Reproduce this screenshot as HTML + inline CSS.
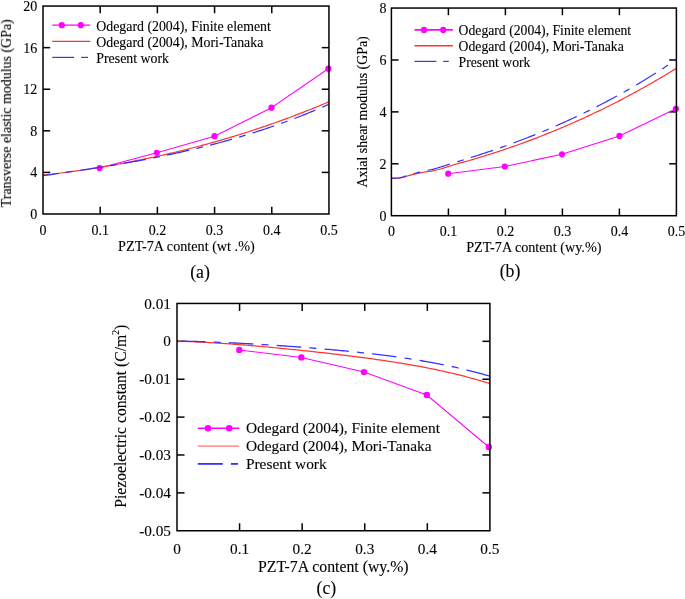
<!DOCTYPE html>
<html><head><meta charset="utf-8"><style>
html,body{margin:0;padding:0;background:#fff;}
svg{display:block;}
</style></head><body>
<svg width="685" height="599" viewBox="0 0 685 599">
<rect width="685" height="599" fill="#fff"/>
<g opacity="0.999"><g stroke="#000" stroke-width="1.5" fill="none" stroke-linecap="butt"><line x1="100.19" y1="214.00" x2="100.19" y2="206.80"/>
<line x1="100.19" y1="6.05" x2="100.19" y2="13.25"/>
<line x1="157.38" y1="214.00" x2="157.38" y2="206.80"/>
<line x1="157.38" y1="6.05" x2="157.38" y2="13.25"/>
<line x1="214.57" y1="214.00" x2="214.57" y2="206.80"/>
<line x1="214.57" y1="6.05" x2="214.57" y2="13.25"/>
<line x1="271.76" y1="214.00" x2="271.76" y2="206.80"/>
<line x1="271.76" y1="6.05" x2="271.76" y2="13.25"/>
<line x1="43.00" y1="172.41" x2="50.20" y2="172.41"/>
<line x1="328.95" y1="172.41" x2="321.75" y2="172.41"/>
<line x1="43.00" y1="130.82" x2="50.20" y2="130.82"/>
<line x1="328.95" y1="130.82" x2="321.75" y2="130.82"/>
<line x1="43.00" y1="89.23" x2="50.20" y2="89.23"/>
<line x1="328.95" y1="89.23" x2="321.75" y2="89.23"/>
<line x1="43.00" y1="47.64" x2="50.20" y2="47.64"/>
<line x1="328.95" y1="47.64" x2="321.75" y2="47.64"/>
<line x1="448.40" y1="215.70" x2="448.40" y2="208.50"/>
<line x1="448.40" y1="8.05" x2="448.40" y2="15.25"/>
<line x1="505.40" y1="215.70" x2="505.40" y2="208.50"/>
<line x1="505.40" y1="8.05" x2="505.40" y2="15.25"/>
<line x1="562.40" y1="215.70" x2="562.40" y2="208.50"/>
<line x1="562.40" y1="8.05" x2="562.40" y2="15.25"/>
<line x1="619.40" y1="215.70" x2="619.40" y2="208.50"/>
<line x1="619.40" y1="8.05" x2="619.40" y2="15.25"/>
<line x1="391.40" y1="163.79" x2="398.60" y2="163.79"/>
<line x1="676.40" y1="163.79" x2="669.20" y2="163.79"/>
<line x1="391.40" y1="111.88" x2="398.60" y2="111.88"/>
<line x1="676.40" y1="111.88" x2="669.20" y2="111.88"/>
<line x1="391.40" y1="59.96" x2="398.60" y2="59.96"/>
<line x1="676.40" y1="59.96" x2="669.20" y2="59.96"/>
<line x1="239.58" y1="530.75" x2="239.58" y2="523.25"/>
<line x1="239.58" y1="303.45" x2="239.58" y2="310.95"/>
<line x1="302.16" y1="530.75" x2="302.16" y2="523.25"/>
<line x1="302.16" y1="303.45" x2="302.16" y2="310.95"/>
<line x1="364.74" y1="530.75" x2="364.74" y2="523.25"/>
<line x1="364.74" y1="303.45" x2="364.74" y2="310.95"/>
<line x1="427.32" y1="530.75" x2="427.32" y2="523.25"/>
<line x1="427.32" y1="303.45" x2="427.32" y2="310.95"/>
<line x1="177.00" y1="341.33" x2="184.50" y2="341.33"/>
<line x1="489.90" y1="341.33" x2="482.40" y2="341.33"/>
<line x1="177.00" y1="379.22" x2="184.50" y2="379.22"/>
<line x1="489.90" y1="379.22" x2="482.40" y2="379.22"/>
<line x1="177.00" y1="417.10" x2="184.50" y2="417.10"/>
<line x1="489.90" y1="417.10" x2="482.40" y2="417.10"/>
<line x1="177.00" y1="454.98" x2="184.50" y2="454.98"/>
<line x1="489.90" y1="454.98" x2="482.40" y2="454.98"/>
<line x1="177.00" y1="492.87" x2="184.50" y2="492.87"/>
<line x1="489.90" y1="492.87" x2="482.40" y2="492.87"/></g>
<g font-family="Liberation Serif, serif" fill="#000"><path d="M99.60,168.10 L156.80,152.80 L214.50,136.20 L271.50,107.70 L328.30,68.70" fill="none" stroke="#ff00ff" stroke-width="1.05"/>
<circle cx="99.60" cy="168.10" r="3.1" fill="#ff00ff"/>
<circle cx="156.80" cy="152.80" r="3.1" fill="#ff00ff"/>
<circle cx="214.50" cy="136.20" r="3.1" fill="#ff00ff"/>
<circle cx="271.50" cy="107.70" r="3.1" fill="#ff00ff"/>
<circle cx="328.30" cy="68.70" r="3.1" fill="#ff00ff"/>
<path d="M43.00,175.17 L45.00,174.94 L47.00,174.70 L49.00,174.47 L51.00,174.23 L53.00,173.99 L55.00,173.74 L57.00,173.49 L59.00,173.24 L61.00,172.98 L63.00,172.72 L65.00,172.46 L67.00,172.19 L69.00,171.92 L71.00,171.65 L73.00,171.37 L75.00,171.09 L77.00,170.81 L79.00,170.52 L81.00,170.23 L83.00,169.93 L85.00,169.64 L87.00,169.33 L89.00,169.03 L91.00,168.72 L93.00,168.41 L95.00,168.09 L97.00,167.77 L99.00,167.44 L101.00,167.12 L103.00,166.79 L105.00,166.45 L107.00,166.11 L109.00,165.77 L111.00,165.42 L113.00,165.07 L115.00,164.72 L117.00,164.36 L119.00,164.00 L121.00,163.63 L123.00,163.26 L125.00,162.89 L127.00,162.51 L129.00,162.13 L131.00,161.75 L133.00,161.36 L135.00,160.96 L137.00,160.57 L139.00,160.17 L141.00,159.76 L143.00,159.35 L145.00,158.94 L147.00,158.52 L149.00,158.10 L151.00,157.67 L153.00,157.25 L155.00,156.81 L157.00,156.37 L159.00,155.93 L161.00,155.49 L163.00,155.04 L165.00,154.58 L167.00,154.12 L169.00,153.66 L171.00,153.20 L173.00,152.72 L175.00,152.25 L177.00,151.77 L179.00,151.29 L181.00,150.80 L183.00,150.31 L185.00,149.81 L187.00,149.31 L189.00,148.80 L191.00,148.29 L193.00,147.78 L195.00,147.26 L197.00,146.74 L199.00,146.21 L201.00,145.68 L203.00,145.14 L205.00,144.60 L207.00,144.06 L209.00,143.51 L211.00,142.95 L213.00,142.40 L215.00,141.83 L217.00,141.26 L219.00,140.69 L221.00,140.12 L223.00,139.53 L225.00,138.95 L227.00,138.36 L229.00,137.76 L231.00,137.16 L233.00,136.56 L235.00,135.95 L237.00,135.34 L239.00,134.72 L241.00,134.09 L243.00,133.47 L245.00,132.83 L247.00,132.20 L249.00,131.55 L251.00,130.91 L253.00,130.26 L255.00,129.60 L257.00,128.94 L259.00,128.27 L261.00,127.60 L263.00,126.92 L265.00,126.24 L267.00,125.56 L269.00,124.87 L271.00,124.17 L273.00,123.47 L275.00,122.76 L277.00,122.05 L279.00,121.34 L281.00,120.62 L283.00,119.89 L285.00,119.16 L287.00,118.43 L289.00,117.69 L291.00,116.94 L293.00,116.19 L295.00,115.43 L297.00,114.67 L299.00,113.91 L301.00,113.14 L303.00,112.36 L305.00,111.58 L307.00,110.79 L309.00,110.00 L311.00,109.20 L313.00,108.40 L315.00,107.59 L317.00,106.78 L319.00,105.96 L321.00,105.14 L323.00,104.31 L325.00,103.47 L327.00,102.64 L328.95,101.81" fill="none" stroke="#ff3333" stroke-width="1.2" stroke-linejoin="round"/>
<path d="M43.00,175.64 L45.00,175.37 L47.00,175.09 L49.00,174.82 L51.00,174.54 L53.00,174.26 L55.00,173.99 L57.00,173.71 L59.00,173.43 L61.00,173.14 L63.00,172.86 L65.00,172.58 L67.00,172.29 L69.00,172.00 L71.00,171.71 L73.00,171.42 L75.00,171.13 L77.00,170.84 L79.00,170.54 L81.00,170.25 L83.00,169.95 L85.00,169.65 L87.00,169.34 L89.00,169.04 L91.00,168.73 L93.00,168.42 L95.00,168.11 L97.00,167.80 L99.00,167.48 L101.00,167.17 L103.00,166.85 L105.00,166.52 L107.00,166.20 L109.00,165.87 L111.00,165.54 L113.00,165.21 L115.00,164.88 L117.00,164.54 L119.00,164.20 L121.00,163.86 L123.00,163.51 L125.00,163.17 L127.00,162.81 L129.00,162.46 L131.00,162.10 L133.00,161.74 L135.00,161.38 L137.00,161.02 L139.00,160.65 L141.00,160.28 L143.00,159.90 L145.00,159.52 L147.00,159.14 L149.00,158.75 L151.00,158.37 L153.00,157.97 L155.00,157.58 L157.00,157.18 L159.00,156.78 L161.00,156.37 L163.00,155.96 L165.00,155.54 L167.00,155.13 L169.00,154.71 L171.00,154.28 L173.00,153.85 L175.00,153.42 L177.00,152.98 L179.00,152.54 L181.00,152.09 L183.00,151.64 L185.00,151.19 L187.00,150.73 L189.00,150.27 L191.00,149.80 L193.00,149.33 L195.00,148.85 L197.00,148.37 L199.00,147.89 L201.00,147.40 L203.00,146.90 L205.00,146.40 L207.00,145.90 L209.00,145.39 L211.00,144.88 L213.00,144.36 L215.00,143.83 L217.00,143.30 L219.00,142.77 L221.00,142.23 L223.00,141.69 L225.00,141.14 L227.00,140.59 L229.00,140.03 L231.00,139.46 L233.00,138.89 L235.00,138.32 L237.00,137.73 L239.00,137.15 L241.00,136.56 L243.00,135.96 L245.00,135.35 L247.00,134.74 L249.00,134.13 L251.00,133.51 L253.00,132.88 L255.00,132.25 L257.00,131.61 L259.00,130.97 L261.00,130.32 L263.00,129.66 L265.00,129.00 L267.00,128.33 L269.00,127.65 L271.00,126.97 L273.00,126.28 L275.00,125.59 L277.00,124.89 L279.00,124.18 L281.00,123.47 L283.00,122.75 L285.00,122.02 L287.00,121.29 L289.00,120.54 L291.00,119.80 L293.00,119.04 L295.00,118.28 L297.00,117.52 L299.00,116.74 L301.00,115.96 L303.00,115.17 L305.00,114.37 L307.00,113.57 L309.00,112.76 L311.00,111.94 L313.00,111.12 L315.00,110.29 L317.00,109.45 L319.00,108.60 L321.00,107.75 L323.00,106.88 L325.00,106.02 L327.00,105.14 L328.95,104.28" fill="none" stroke="#3333ff" stroke-width="1.25" stroke-dasharray="22.7 7.4 6.7 7.4" stroke-dashoffset="6.8" stroke-linejoin="round"/>
<path d="M448.20,173.70 L504.80,166.50 L562.00,154.30 L619.40,135.90 L675.90,108.80" fill="none" stroke="#ff00ff" stroke-width="1.1"/>
<circle cx="448.20" cy="173.70" r="3.1" fill="#ff00ff"/>
<circle cx="504.80" cy="166.50" r="3.1" fill="#ff00ff"/>
<circle cx="562.00" cy="154.30" r="3.1" fill="#ff00ff"/>
<circle cx="619.40" cy="135.90" r="3.1" fill="#ff00ff"/>
<circle cx="675.90" cy="108.80" r="3.1" fill="#ff00ff"/>
<path d="M391.40,178.39 L393.40,178.37 L395.40,178.34 L397.40,178.27 L399.40,178.08 L401.40,177.72 L403.40,177.19 L405.40,176.58 L407.40,175.97 L409.40,175.38 L411.40,174.84 L413.40,174.37 L415.40,173.93 L417.40,173.50 L419.40,173.07 L421.40,172.65 L423.40,172.25 L425.40,171.90 L427.40,171.62 L429.40,171.37 L431.40,171.07 L433.40,170.68 L435.40,170.23 L437.40,169.75 L439.40,169.26 L441.40,168.72 L443.40,168.12 L445.40,167.49 L447.40,166.84 L449.40,166.20 L451.40,165.57 L453.40,164.96 L455.40,164.36 L457.40,163.77 L459.40,163.20 L461.40,162.64 L463.40,162.09 L465.40,161.55 L467.40,161.01 L469.40,160.46 L471.40,159.89 L473.40,159.30 L475.40,158.71 L477.40,158.11 L479.40,157.51 L481.40,156.90 L483.40,156.28 L485.40,155.66 L487.40,155.04 L489.40,154.41 L491.40,153.77 L493.40,153.13 L495.40,152.48 L497.40,151.83 L499.40,151.17 L501.40,150.51 L503.40,149.84 L505.40,149.16 L507.40,148.48 L509.40,147.79 L511.40,147.10 L513.40,146.40 L515.40,145.70 L517.40,144.99 L519.40,144.27 L521.40,143.55 L523.40,142.82 L525.40,142.09 L527.40,141.35 L529.40,140.61 L531.40,139.86 L533.40,139.10 L535.40,138.34 L537.40,137.57 L539.40,136.79 L541.40,136.01 L543.40,135.22 L545.40,134.43 L547.40,133.63 L549.40,132.83 L551.40,132.02 L553.40,131.20 L555.40,130.37 L557.40,129.54 L559.40,128.71 L561.40,127.87 L563.40,127.02 L565.40,126.16 L567.40,125.30 L569.40,124.43 L571.40,123.56 L573.40,122.68 L575.40,121.79 L577.40,120.90 L579.40,120.00 L581.40,119.10 L583.40,118.18 L585.40,117.27 L587.40,116.34 L589.40,115.41 L591.40,114.47 L593.40,113.53 L595.40,112.57 L597.40,111.62 L599.40,110.65 L601.40,109.68 L603.40,108.70 L605.40,107.72 L607.40,106.73 L609.40,105.73 L611.40,104.72 L613.40,103.71 L615.40,102.70 L617.40,101.67 L619.40,100.64 L621.40,99.60 L623.40,98.55 L625.40,97.50 L627.40,96.44 L629.40,95.38 L631.40,94.30 L633.40,93.22 L635.40,92.14 L637.40,91.04 L639.40,89.94 L641.40,88.83 L643.40,87.72 L645.40,86.60 L647.40,85.47 L649.40,84.33 L651.40,83.19 L653.40,82.04 L655.40,80.88 L657.40,79.71 L659.40,78.54 L661.40,77.36 L663.40,76.17 L665.40,74.98 L667.40,73.78 L669.40,72.57 L671.40,71.35 L673.40,70.13 L675.40,68.90 L676.40,68.28" fill="none" stroke="#ff3333" stroke-width="1.2" stroke-linejoin="round"/>
<path d="M391.40,178.18 L393.40,178.15 L395.40,178.10 L397.40,178.00 L399.40,177.79 L401.40,177.39 L403.40,176.82 L405.40,176.18 L407.40,175.52 L409.40,174.88 L411.40,174.29 L413.40,173.74 L415.40,173.21 L417.40,172.70 L419.40,172.19 L421.40,171.68 L423.40,171.21 L425.40,170.78 L427.40,170.40 L429.40,170.02 L431.40,169.62 L433.40,169.15 L435.40,168.61 L437.40,168.03 L439.40,167.42 L441.40,166.79 L443.40,166.15 L445.40,165.52 L447.40,164.89 L449.40,164.27 L451.40,163.64 L453.40,163.02 L455.40,162.39 L457.40,161.77 L459.40,161.15 L461.40,160.52 L463.40,159.89 L465.40,159.26 L467.40,158.63 L469.40,158.01 L471.40,157.38 L473.40,156.75 L475.40,156.11 L477.40,155.47 L479.40,154.82 L481.40,154.17 L483.40,153.51 L485.40,152.85 L487.40,152.19 L489.40,151.51 L491.40,150.84 L493.40,150.16 L495.40,149.47 L497.40,148.78 L499.40,148.08 L501.40,147.37 L503.40,146.66 L505.40,145.95 L507.40,145.23 L509.40,144.50 L511.40,143.77 L513.40,143.04 L515.40,142.29 L517.40,141.55 L519.40,140.79 L521.40,140.03 L523.40,139.26 L525.40,138.49 L527.40,137.71 L529.40,136.93 L531.40,136.14 L533.40,135.34 L535.40,134.54 L537.40,133.73 L539.40,132.92 L541.40,132.10 L543.40,131.27 L545.40,130.43 L547.40,129.59 L549.40,128.75 L551.40,127.89 L553.40,127.03 L555.40,126.16 L557.40,125.29 L559.40,124.41 L561.40,123.52 L563.40,122.63 L565.40,121.73 L567.40,120.82 L569.40,119.90 L571.40,118.98 L573.40,118.05 L575.40,117.12 L577.40,116.17 L579.40,115.22 L581.40,114.27 L583.40,113.30 L585.40,112.33 L587.40,111.35 L589.40,110.36 L591.40,109.37 L593.40,108.36 L595.40,107.35 L597.40,106.34 L599.40,105.31 L601.40,104.28 L603.40,103.24 L605.40,102.19 L607.40,101.13 L609.40,100.07 L611.40,99.00 L613.40,97.91 L615.40,96.83 L617.40,95.73 L619.40,94.63 L621.40,93.51 L623.40,92.39 L625.40,91.26 L627.40,90.13 L629.40,88.98 L631.40,87.83 L633.40,86.66 L635.40,85.49 L637.40,84.31 L639.40,83.12 L641.40,81.93 L643.40,80.72 L645.40,79.51 L647.40,78.28 L649.40,77.05 L651.40,75.81 L653.40,74.56 L655.40,73.30 L657.40,72.03 L659.40,70.76 L661.40,69.47 L663.40,68.17 L665.40,66.87 L667.40,65.56 L669.40,64.23 L671.40,62.90 L673.40,61.56 L675.40,60.21 L676.40,59.53" fill="none" stroke="#3333ff" stroke-width="1.2" stroke-dasharray="23.2 7.6 6.8 7.6" stroke-dashoffset="8.0" stroke-linejoin="round"/>
<path d="M239.30,349.90 L301.30,357.40 L364.00,372.10 L426.80,395.00 L488.80,447.00" fill="none" stroke="#ff00ff" stroke-width="1.05"/>
<circle cx="239.30" cy="349.90" r="3.2" fill="#ff00ff"/>
<circle cx="301.30" cy="357.40" r="3.2" fill="#ff00ff"/>
<circle cx="364.00" cy="372.10" r="3.2" fill="#ff00ff"/>
<circle cx="426.80" cy="395.00" r="3.2" fill="#ff00ff"/>
<circle cx="488.80" cy="447.00" r="3.2" fill="#ff00ff"/>
<path d="M177.00,341.19 L179.00,341.24 L181.00,341.30 L183.00,341.36 L185.00,341.43 L187.00,341.50 L189.00,341.57 L191.00,341.65 L193.00,341.74 L195.00,341.82 L197.00,341.92 L199.00,342.01 L201.00,342.11 L203.00,342.22 L205.00,342.32 L207.00,342.43 L209.00,342.55 L211.00,342.66 L213.00,342.78 L215.00,342.91 L217.00,343.03 L219.00,343.16 L221.00,343.30 L223.00,343.43 L225.00,343.57 L227.00,343.71 L229.00,343.85 L231.00,344.00 L233.00,344.15 L235.00,344.30 L237.00,344.45 L239.00,344.61 L241.00,344.77 L243.00,344.93 L245.00,345.09 L247.00,345.25 L249.00,345.42 L251.00,345.59 L253.00,345.76 L255.00,345.93 L257.00,346.10 L259.00,346.28 L261.00,346.46 L263.00,346.64 L265.00,346.82 L267.00,347.00 L269.00,347.18 L271.00,347.37 L273.00,347.56 L275.00,347.75 L277.00,347.94 L279.00,348.13 L281.00,348.32 L283.00,348.52 L285.00,348.72 L287.00,348.91 L289.00,349.11 L291.00,349.32 L293.00,349.52 L295.00,349.72 L297.00,349.93 L299.00,350.14 L301.00,350.34 L303.00,350.55 L305.00,350.77 L307.00,350.98 L309.00,351.19 L311.00,351.41 L313.00,351.63 L315.00,351.84 L317.00,352.07 L319.00,352.29 L321.00,352.51 L323.00,352.74 L325.00,352.96 L327.00,353.19 L329.00,353.42 L331.00,353.65 L333.00,353.89 L335.00,354.12 L337.00,354.36 L339.00,354.60 L341.00,354.84 L343.00,355.08 L345.00,355.32 L347.00,355.57 L349.00,355.82 L351.00,356.07 L353.00,356.32 L355.00,356.58 L357.00,356.84 L359.00,357.10 L361.00,357.36 L363.00,357.62 L365.00,357.89 L367.00,358.16 L369.00,358.43 L371.00,358.71 L373.00,358.99 L375.00,359.27 L377.00,359.55 L379.00,359.84 L381.00,360.13 L383.00,360.42 L385.00,360.72 L387.00,361.02 L389.00,361.32 L391.00,361.63 L393.00,361.94 L395.00,362.25 L397.00,362.57 L399.00,362.89 L401.00,363.22 L403.00,363.55 L405.00,363.88 L407.00,364.22 L409.00,364.56 L411.00,364.91 L413.00,365.26 L415.00,365.62 L417.00,365.98 L419.00,366.35 L421.00,366.72 L423.00,367.09 L425.00,367.48 L427.00,367.86 L429.00,368.26 L431.00,368.66 L433.00,369.06 L435.00,369.47 L437.00,369.89 L439.00,370.31 L441.00,370.74 L443.00,371.18 L445.00,371.62 L447.00,372.07 L449.00,372.53 L451.00,372.99 L453.00,373.46 L455.00,373.94 L457.00,374.43 L459.00,374.92 L461.00,375.42 L463.00,375.93 L465.00,376.45 L467.00,376.98 L469.00,377.51 L471.00,378.06 L473.00,378.61 L475.00,379.17 L477.00,379.74 L479.00,380.32 L481.00,380.91 L483.00,381.51 L485.00,382.12 L487.00,382.74 L489.00,383.37 L489.90,383.66" fill="none" stroke="#ff3333" stroke-width="1.25" stroke-linejoin="round"/>
<path d="M177.00,341.08 L179.00,341.11 L181.00,341.14 L183.00,341.18 L185.00,341.22 L187.00,341.26 L189.00,341.30 L191.00,341.35 L193.00,341.40 L195.00,341.45 L197.00,341.51 L199.00,341.57 L201.00,341.63 L203.00,341.69 L205.00,341.76 L207.00,341.83 L209.00,341.90 L211.00,341.97 L213.00,342.05 L215.00,342.13 L217.00,342.21 L219.00,342.29 L221.00,342.37 L223.00,342.46 L225.00,342.55 L227.00,342.64 L229.00,342.73 L231.00,342.83 L233.00,342.92 L235.00,343.02 L237.00,343.12 L239.00,343.22 L241.00,343.32 L243.00,343.43 L245.00,343.54 L247.00,343.65 L249.00,343.76 L251.00,343.87 L253.00,343.98 L255.00,344.10 L257.00,344.21 L259.00,344.33 L261.00,344.45 L263.00,344.57 L265.00,344.70 L267.00,344.82 L269.00,344.95 L271.00,345.07 L273.00,345.20 L275.00,345.33 L277.00,345.47 L279.00,345.60 L281.00,345.73 L283.00,345.87 L285.00,346.01 L287.00,346.15 L289.00,346.29 L291.00,346.43 L293.00,346.58 L295.00,346.72 L297.00,346.87 L299.00,347.02 L301.00,347.17 L303.00,347.32 L305.00,347.48 L307.00,347.63 L309.00,347.79 L311.00,347.95 L313.00,348.11 L315.00,348.27 L317.00,348.44 L319.00,348.60 L321.00,348.77 L323.00,348.94 L325.00,349.11 L327.00,349.29 L329.00,349.46 L331.00,349.64 L333.00,349.82 L335.00,350.00 L337.00,350.19 L339.00,350.37 L341.00,350.56 L343.00,350.75 L345.00,350.95 L347.00,351.14 L349.00,351.34 L351.00,351.54 L353.00,351.74 L355.00,351.95 L357.00,352.16 L359.00,352.37 L361.00,352.58 L363.00,352.80 L365.00,353.02 L367.00,353.24 L369.00,353.47 L371.00,353.70 L373.00,353.93 L375.00,354.16 L377.00,354.40 L379.00,354.64 L381.00,354.89 L383.00,355.14 L385.00,355.39 L387.00,355.65 L389.00,355.91 L391.00,356.17 L393.00,356.44 L395.00,356.71 L397.00,356.99 L399.00,357.27 L401.00,357.55 L403.00,357.84 L405.00,358.13 L407.00,358.43 L409.00,358.73 L411.00,359.04 L413.00,359.35 L415.00,359.67 L417.00,359.99 L419.00,360.32 L421.00,360.65 L423.00,360.99 L425.00,361.34 L427.00,361.68 L429.00,362.04 L431.00,362.40 L433.00,362.77 L435.00,363.14 L437.00,363.52 L439.00,363.90 L441.00,364.30 L443.00,364.69 L445.00,365.10 L447.00,365.51 L449.00,365.93 L451.00,366.35 L453.00,366.79 L455.00,367.23 L457.00,367.67 L459.00,368.13 L461.00,368.59 L463.00,369.06 L465.00,369.54 L467.00,370.03 L469.00,370.52 L471.00,371.03 L473.00,371.54 L475.00,372.06 L477.00,372.59 L479.00,373.12 L481.00,373.67 L483.00,374.23 L485.00,374.79 L487.00,375.37 L489.00,375.95 L489.90,376.22" fill="none" stroke="#3333ff" stroke-width="1.3" stroke-dasharray="24.5 8.2 7 8.2" stroke-dashoffset="-4" stroke-linejoin="round"/>
<line x1="52.3" y1="25.2" x2="90.3" y2="25.2" stroke="#ff00ff" stroke-width="1.3"/>
<circle cx="61.8" cy="25.2" r="3.1" fill="#ff00ff"/>
<circle cx="80.8" cy="25.2" r="3.1" fill="#ff00ff"/>
<line x1="52.3" y1="41.3" x2="90.3" y2="41.3" stroke="#ff3333" stroke-width="1.2"/>
<line x1="52.3" y1="57.4" x2="74.1" y2="57.4" stroke="#3333ff" stroke-width="1.2"/>
<line x1="81.2" y1="57.4" x2="88.0" y2="57.4" stroke="#3333ff" stroke-width="1.2"/>
<line x1="414.5" y1="29.9" x2="452.9" y2="29.9" stroke="#ff00ff" stroke-width="1.8"/>
<circle cx="424.0" cy="29.9" r="3.1" fill="#ff00ff"/>
<circle cx="443.2" cy="29.9" r="3.1" fill="#ff00ff"/>
<line x1="414.5" y1="45.7" x2="452.9" y2="45.7" stroke="#ff3333" stroke-width="1.6"/>
<line x1="414.5" y1="61.4" x2="436.4" y2="61.4" stroke="#3333ff" stroke-width="1.2"/>
<line x1="443.2" y1="61.4" x2="448.8" y2="61.4" stroke="#3333ff" stroke-width="1.2"/>
<line x1="197.8" y1="428.2" x2="239.3" y2="428.2" stroke="#ff00ff" stroke-width="1.6"/>
<circle cx="208.0" cy="428.2" r="3.3" fill="#ff00ff"/>
<circle cx="229.2" cy="428.2" r="3.3" fill="#ff00ff"/>
<line x1="197.8" y1="446.1" x2="239.3" y2="446.1" stroke="#ff9a9a" stroke-width="1.6"/>
<line x1="197.8" y1="463.9" x2="222.8" y2="463.9" stroke="#3333ff" stroke-width="1.8"/>
<line x1="230.9" y1="463.9" x2="238.0" y2="463.9" stroke="#3333ff" stroke-width="1.8"/></g>
<g stroke="#000" stroke-width="1.5" fill="none" stroke-linejoin="miter"><rect x="43.00" y="6.05" width="285.95" height="207.95" fill="none"/><rect x="391.40" y="8.05" width="285.00" height="207.65" fill="none"/><rect x="177.00" y="303.45" width="312.90" height="227.30" fill="none"/></g>
<g font-family="Liberation Serif, serif" fill="#000" stroke="#000" stroke-width="0.12"><text x="43.00" y="234.90" font-size="14" text-anchor="middle" >0</text>
<text x="100.19" y="234.90" font-size="14" text-anchor="middle" >0.1</text>
<text x="157.38" y="234.90" font-size="14" text-anchor="middle" >0.2</text>
<text x="214.57" y="234.90" font-size="14" text-anchor="middle" >0.3</text>
<text x="271.76" y="234.90" font-size="14" text-anchor="middle" >0.4</text>
<text x="328.95" y="234.90" font-size="14" text-anchor="middle" >0.5</text>
<text x="37.30" y="218.90" font-size="14" text-anchor="end" >0</text>
<text x="37.30" y="177.31" font-size="14" text-anchor="end" >4</text>
<text x="37.30" y="135.72" font-size="14" text-anchor="end" >8</text>
<text x="37.30" y="94.13" font-size="14" text-anchor="end" >12</text>
<text x="37.30" y="52.54" font-size="14" text-anchor="end" >16</text>
<text x="37.30" y="10.95" font-size="14" text-anchor="end" >20</text>
<text x="391.40" y="236.10" font-size="14" text-anchor="middle" >0</text>
<text x="448.40" y="236.10" font-size="14" text-anchor="middle" >0.1</text>
<text x="505.40" y="236.10" font-size="14" text-anchor="middle" >0.2</text>
<text x="562.40" y="236.10" font-size="14" text-anchor="middle" >0.3</text>
<text x="619.40" y="236.10" font-size="14" text-anchor="middle" >0.4</text>
<text x="676.40" y="236.10" font-size="14" text-anchor="middle" >0.5</text>
<text x="386.50" y="220.50" font-size="14" text-anchor="end" >0</text>
<text x="386.50" y="168.59" font-size="14" text-anchor="end" >2</text>
<text x="386.50" y="116.67" font-size="14" text-anchor="end" >4</text>
<text x="386.50" y="64.76" font-size="14" text-anchor="end" >6</text>
<text x="386.50" y="12.85" font-size="14" text-anchor="end" >8</text>
<text x="177.00" y="553.60" font-size="15.3" text-anchor="middle" >0</text>
<text x="239.58" y="553.60" font-size="15.3" text-anchor="middle" >0.1</text>
<text x="302.16" y="553.60" font-size="15.3" text-anchor="middle" >0.2</text>
<text x="364.74" y="553.60" font-size="15.3" text-anchor="middle" >0.3</text>
<text x="427.32" y="553.60" font-size="15.3" text-anchor="middle" >0.4</text>
<text x="489.90" y="553.60" font-size="15.3" text-anchor="middle" >0.5</text>
<text x="171.00" y="308.55" font-size="15.3" text-anchor="end" >0.01</text>
<text x="171.00" y="346.43" font-size="15.3" text-anchor="end" >0</text>
<text x="171.00" y="384.32" font-size="15.3" text-anchor="end" >-0.01</text>
<text x="171.00" y="422.20" font-size="15.3" text-anchor="end" >-0.02</text>
<text x="171.00" y="460.08" font-size="15.3" text-anchor="end" >-0.03</text>
<text x="171.00" y="497.97" font-size="15.3" text-anchor="end" >-0.04</text>
<text x="171.00" y="535.85" font-size="15.3" text-anchor="end" >-0.05</text>
<text x="186.40" y="251.10" font-size="14.2" text-anchor="middle" >PZT-7A content (wt .%)</text>
<text x="533.80" y="252.20" font-size="14.2" text-anchor="middle" >PZT-7A content (wy.%)</text>
<text x="333.30" y="571.90" font-size="15.8" text-anchor="middle" >PZT-7A content (wy.%)</text>
<text transform="translate(10.9,113.3) rotate(-90)" font-size="13.95" text-anchor="middle">Transverse elastic modulus (GPa)</text>
<text transform="translate(367.2,111.9) rotate(-90)" font-size="13.85" text-anchor="middle">Axial shear modulus (GPa)</text>
<text transform="translate(126.2,416.3) rotate(-90)" font-size="15.65" text-anchor="middle">Piezoelectric constant (C/m<tspan font-size="9.5" dy="-7">2</tspan><tspan dy="7">)</tspan></text>
<text x="200.00" y="277.50" font-size="17.8" text-anchor="middle" >(a)</text>
<text x="510.00" y="277.00" font-size="17.8" text-anchor="middle" >(b)</text>
<text x="326.40" y="594.30" font-size="17.8" text-anchor="middle" >(c)</text>
<text x="96.30" y="30.60" font-size="13.85" text-anchor="start" >Odegard (2004), Finite element</text>
<text x="96.30" y="46.60" font-size="13.85" text-anchor="start" >Odegard (2004), Mori-Tanaka</text>
<text x="96.30" y="62.60" font-size="13.85" text-anchor="start" >Present work</text>
<text x="458.60" y="34.90" font-size="13.7" text-anchor="start" >Odegard (2004), Finite element</text>
<text x="458.60" y="50.70" font-size="13.7" text-anchor="start" >Odegard (2004), Mori-Tanaka</text>
<text x="458.60" y="66.50" font-size="13.7" text-anchor="start" >Present work</text>
<text x="245.90" y="433.30" font-size="15.4" text-anchor="start" >Odegard (2004), Finite element</text>
<text x="245.90" y="450.90" font-size="15.4" text-anchor="start" >Odegard (2004), Mori-Tanaka</text>
<text x="245.90" y="468.50" font-size="15.4" text-anchor="start" >Present work</text></g></g>
</svg>
</body></html>
